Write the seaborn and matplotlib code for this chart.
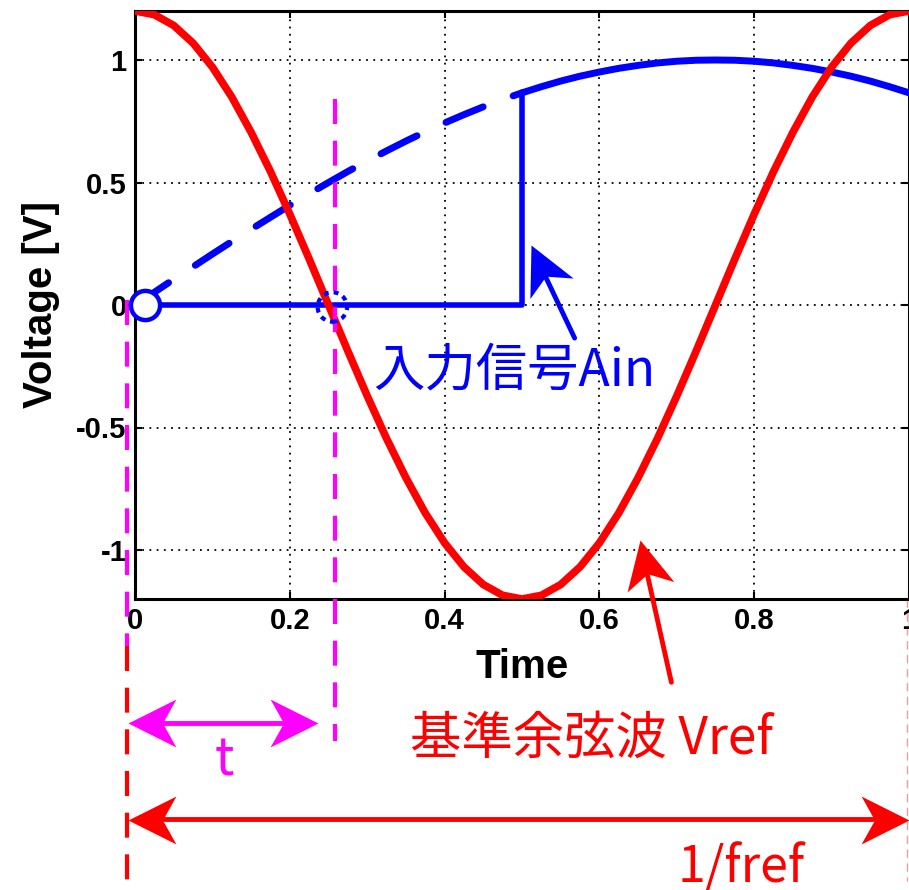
import matplotlib
matplotlib.use("Agg")
import numpy as np
import matplotlib.pyplot as plt
import seaborn as sns
import pandas as pd
from matplotlib.patches import Ellipse
from matplotlib.path import Path

# ---------------------------
# Data
# ---------------------------
time = [0.000, 0.025, 0.050, 0.075, 0.100, 0.125, 0.150, 0.175, 0.200, 0.225,
        0.250, 0.275, 0.300, 0.325, 0.350, 0.375, 0.400, 0.425, 0.450, 0.475,
        0.500, 0.525, 0.550, 0.575, 0.600, 0.625, 0.650, 0.675, 0.700, 0.725,
        0.750, 0.775, 0.800, 0.825, 0.850, 0.875, 0.900, 0.925, 0.950, 0.975,
        1.000]

# reference cosine Vref
vref = [1.20, 1.185, 1.141, 1.069, 0.971, 0.849, 0.705, 0.545, 0.371, 0.188,
        0.00, -0.188, -0.371, -0.545, -0.705, -0.849, -0.971, -1.069, -1.141, -1.185,
        -1.20, -1.185, -1.141, -1.069, -0.971, -0.849, -0.705, -0.545, -0.371, -0.188,
        0.00, 0.188, 0.371, 0.545, 0.705, 0.849, 0.971, 1.069, 1.141, 1.185,
        1.20]

# input signal Ain
ain = [0.000, 0.052, 0.105, 0.156, 0.208, 0.259, 0.309, 0.358, 0.407, 0.454,
       0.500, 0.545, 0.588, 0.629, 0.669, 0.707, 0.743, 0.777, 0.809, 0.839,
       0.866, 0.891, 0.914, 0.934, 0.951, 0.966, 0.978, 0.988, 0.995, 0.999,
       1.000, 0.999, 0.995, 0.988, 0.978, 0.966, 0.951, 0.934, 0.914, 0.891,
       0.866]

# sampled/held value of Ain (step)
hold_x = [0.0, 0.5, 0.5]
hold_y = [0.0, 0.0, 0.866]

start_pt = (0.013, 0.0)
cross_pt = (0.255, -0.008)
t_cross = 0.258

x_ticks = [0, 0.2, 0.4, 0.6, 0.8, 1]
x_ticklabels = ["0", "0.2", "0.4", "0.6", "0.8", "1"]
y_ticks = [-1, -0.5, 0, 0.5, 1]
y_ticklabels = ["-1", "-0.5", "0", "0.5", "1"]

RED = "#FF0000"
BLUE = "#0000FF"
MAGENTA = "#FF00FF"

df = pd.DataFrame({"time": time, "vref": vref, "ain": ain})
dash_part = df[df["time"] <= 0.5]
solid_part = df[df["time"] >= 0.5]

# ---------------------------
# Style
# ---------------------------
sns.set_style("ticks")
plt.rcParams['font.family'] = ['Liberation Sans', 'DejaVu Sans']
plt.rcParams['text.color'] = 'black'
plt.rcParams['axes.labelcolor'] = 'black'
plt.rcParams['xtick.color'] = 'black'
plt.rcParams['ytick.color'] = 'black'
cjk = ['Noto Sans CJK JP', 'DejaVu Sans']

fig = plt.figure(figsize=(9.09, 8.9), dpi=100)
ax = fig.add_axes([135 / 909, 1 - 599 / 890, 774 / 909, 588 / 890])

# ---------------------------
# Curves
# ---------------------------
sns.lineplot(x="time", y="ain", data=dash_part, ax=ax, color=BLUE, linewidth=5,
             linestyle=(0, (5.8, 4.6)), dash_capstyle="round", zorder=3)
sns.lineplot(x="time", y="ain", data=solid_part, ax=ax, color=BLUE, linewidth=5,
             solid_capstyle="round", zorder=3)
ax.plot(hold_x, hold_y, color=BLUE, linewidth=4, zorder=3)
sns.lineplot(x="time", y="vref", data=df, ax=ax, color=RED, linewidth=5.5, zorder=4)

ax.plot(*start_pt, marker="o", markersize=21, markerfacecolor="white",
        markeredgecolor=BLUE, markeredgewidth=3.2, zorder=6, clip_on=False)
ax.add_patch(Ellipse(cross_pt, 0.038, 0.12, fill=False, edgecolor=BLUE,
                     linewidth=3, linestyle=(0, (1.2, 1.2)), zorder=6))

# ---------------------------
# Axes
# ---------------------------
ax.set_xlim(0, 1)
ax.set_ylim(-1.2, 1.2)
ax.set_xticks(x_ticks)
ax.set_xticklabels(x_ticklabels)
ax.set_yticks(y_ticks)
ax.set_yticklabels(y_ticklabels)
ax.tick_params(direction="in", length=5, width=1.5, labelsize=21, pad=6,
               top=True, right=True, colors="black")
for lab in ax.get_xticklabels() + ax.get_yticklabels():
    lab.set_fontweight("bold")
ax.grid(True, color="black", linestyle=(0, (1, 3)), linewidth=1.3)
for sp in ax.spines.values():
    sp.set_linewidth(2.2)
    sp.set_color("black")
ax.set_xlabel("Time", fontsize=29, fontweight="bold", labelpad=9)
ax.set_ylabel("Voltage [V]", fontsize=29, fontweight="bold", labelpad=12)

# ---------------------------
# Annotations
# ---------------------------
# dashed marker lines
ax.plot([t_cross, t_cross], [0.84, -1.78], color=MAGENTA, linewidth=3,
        linestyle=(0, (6, 4)), clip_on=False, zorder=5)
ax.plot([-0.0103, -0.0103], [0.02, -1.39], color=MAGENTA, linewidth=3,
        linestyle=(0, (6, 4)), clip_on=False, zorder=5)
ax.plot([-0.0103, -0.0103], [-1.39, -2.35], color=RED, linewidth=3,
        linestyle=(0, (6, 4)), clip_on=False, zorder=5)
ax.plot([0.998, 0.998], [-1.2, -2.35], color=RED, linewidth=1, alpha=0.4,
        linestyle=(0, (6, 4)), clip_on=False, zorder=5)

HEAD_LEN = 34.5  # points
HEAD_SHAPE = np.array([[0, 0], [-1, 0.5], [-0.72, 0], [-1, -0.5], [0, 0]])


def head(tip, tail, color):
    # notched arrowhead drawn as a rotated marker at the tip
    p_tip = ax.transData.transform(tip)
    p_tail = ax.transData.transform(tail)
    ang = np.arctan2(p_tip[1] - p_tail[1], p_tip[0] - p_tail[0])
    rot = np.array([[np.cos(ang), -np.sin(ang)], [np.sin(ang), np.cos(ang)]])
    verts = HEAD_SHAPE @ rot.T
    m = np.max(np.abs(verts))
    ax.plot(*tip, marker=Path(verts, closed=True), markersize=2 * m * HEAD_LEN,
            color=color, markeredgewidth=0, clip_on=False, zorder=8)
    # point where the shaft joins the head
    unit = (p_tip - p_tail) / np.hypot(*(p_tip - p_tail))
    join = p_tip - unit * 0.75 * HEAD_LEN * fig.dpi / 72
    return ax.transData.inverted().transform(join)


def arrow(p0, p1, color, both=False):
    end1 = head(p1, p0, color)
    end0 = head(p0, p1, color) if both else p0
    ax.plot([end0[0], end1[0]], [end0[1], end1[1]], color=color, linewidth=3.5,
            clip_on=False, zorder=7)


arrow((-0.009, -1.706), (0.236, -1.706), MAGENTA, both=True)
arrow((-0.009, -2.10), (1.0, -2.10), RED, both=True)
arrow((0.568, -0.135), (0.511, 0.245), BLUE)
arrow((0.693, -1.54), (0.652, -0.96), RED)

ax.text(0.49, -0.27, "入力信号Ain", color=BLUE, fontsize=37, family=cjk,
        ha="center", va="center", zorder=8)
ax.text(0.59, -1.77, "基準余弦波 Vref", color=RED, fontsize=37, family=cjk,
        ha="center", va="center", clip_on=False)
ax.text(0.116, -1.86, "t", color=MAGENTA, fontsize=37, family=cjk,
        ha="center", va="center", clip_on=False)
ax.text(0.783, -2.30, "1/fref", color=RED, fontsize=36, family=cjk,
        ha="center", va="center", clip_on=False)

fig.savefig("out.png", dpi=100)
plt.close(fig)
